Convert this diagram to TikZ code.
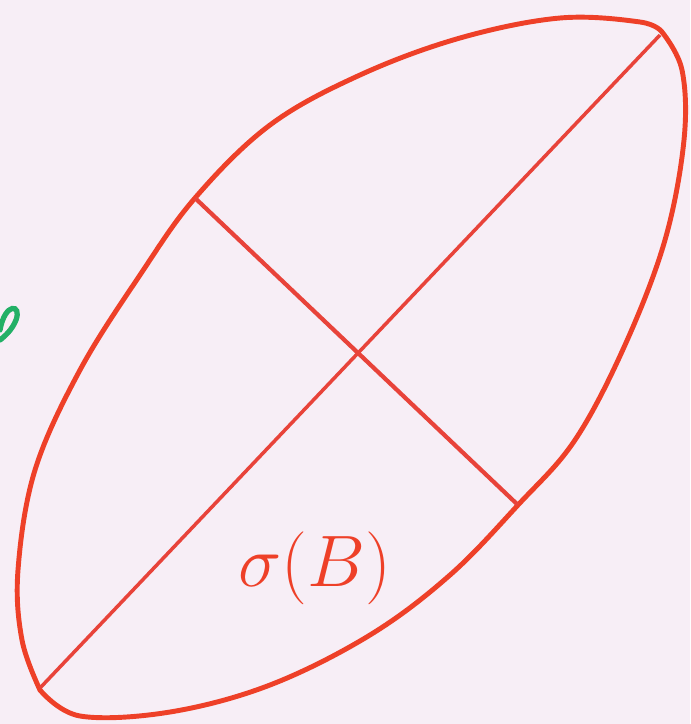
\documentclass[tikz,border=0pt]{standalone}
\usepackage{amsmath,amssymb}
\usepackage{tikz}
\usetikzlibrary{positioning,calc}
\usepackage{xcolor}
\definecolor{paper}{HTML}{F7EEF6}
\definecolor{penred}{HTML}{EE4028}
\definecolor{axred}{HTML}{E8433A}
\definecolor{pengreen}{HTML}{22B066}

\begin{document}
\begin{tikzpicture}[x=0.01cm, y=-0.01cm]
  \fill[paper] (0,0) rectangle (690,724);
  \useasboundingbox (0,0) rectangle (690,724);

  \coordinate (A) at (40,688);
  \coordinate (Bt) at (660,35);
  \coordinate (C) at (195,198);
  \coordinate (D) at (518,505);
  \coordinate (O) at (358,352);

  % outline
  \draw[penred, line width=1.4pt, line cap=round, line join=round]
    plot[smooth, tension=0.6] coordinates {(40,690) (22,640) (18,570) (35,470) (80,370) (140,275) (195,198) (270,125) (360,75) (460,38) (560,18) (640,22) (662,32)};
  \draw[penred, line width=1.4pt, line cap=round, line join=round]
    plot[smooth, tension=0.6] coordinates {(662,32) (682,70) (684,140) (665,240) (625,345) (575,440) (518,505) (450,575) (370,635) (270,685) (170,712) (80,716) (40,690)};

  % axes
  \draw[axred, line width=1pt] (A) -- (Bt);
  \draw[axred, line width=1.2pt] (C) -- (D);

  \node (sig) [penred, font=\fontsize{20}{22}\selectfont] at (315,568) {$\sigma(B)$};

  % cut off mark at the edge
  \draw[pengreen, line width=1.5pt, line cap=round]
    (0,330) .. controls (5,302) and (22,304) .. (16,320) .. controls (12,330) and (5,336) .. (0,340);
\end{tikzpicture}
\end{document}
